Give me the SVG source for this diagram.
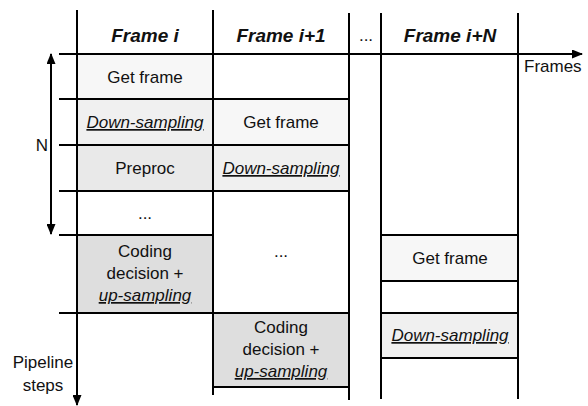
<svg xmlns="http://www.w3.org/2000/svg" width="588" height="406" viewBox="0 0 588 406">
<defs>
<marker id="ah" markerUnits="userSpaceOnUse" markerWidth="11" markerHeight="9" refX="10" refY="4.5" orient="auto-start-reverse">
<path d="M0,0 L11,4.5 L0,9 Z" fill="#000"/>
</marker>
</defs>
<style>
text{font-family:"Liberation Sans",Arial,sans-serif;font-size:17px;fill:#111;text-anchor:middle}
.h{font-weight:bold;font-style:italic;font-size:19px}
.u{font-style:italic;text-decoration:underline}
.l{text-anchor:start}
.g1{fill:#f7f7f7}.g2{fill:#f0f0f0}.g3{fill:#e9e9e9}.g4{fill:#dedede}
.ln{stroke:#000;stroke-width:2;fill:none}
</style>
<rect width="588" height="406" fill="#fff"/>

<g id="c1-getframe"><rect class="g1" x="77" y="54" width="136" height="45"/><text x="145" y="83">Get frame</text></g>
<g id="c1-down"><rect class="g2" x="77" y="99" width="136" height="46"/><text class="u" x="145" y="128">Down-sampling</text></g>
<g id="c1-preproc"><rect class="g3" x="77" y="145" width="136" height="46"/><text x="145" y="174">Preproc</text></g>
<g id="c1-dots"><text x="145" y="219">...</text></g>
<g id="c1-coding"><rect class="g4" x="77" y="235" width="136" height="78"/><text x="145" y="257">Coding</text><text x="145" y="279">decision +</text><text class="u" x="145" y="301">up-sampling</text></g>

<g id="c2-getframe"><rect class="g1" x="213" y="99" width="136" height="46"/><text x="281" y="128">Get frame</text></g>
<g id="c2-down"><rect class="g2" x="213" y="145" width="136" height="46"/><text class="u" x="281" y="174">Down-sampling</text></g>
<g id="c2-dots"><text x="281" y="257">...</text></g>
<g id="c2-coding"><rect class="g4" x="213" y="313" width="136" height="74"/><text x="281" y="333">Coding</text><text x="281" y="355">decision +</text><text class="u" x="281" y="377">up-sampling</text></g>

<g id="c3-getframe"><rect class="g1" x="381" y="235" width="137" height="46"/><text x="450" y="264">Get frame</text></g>
<g id="c3-down"><rect class="g2" x="381" y="313" width="137" height="45"/><text class="u" x="450" y="341">Down-sampling</text></g>

<g id="headers">
<text class="h" x="145" y="42">Frame i</text>
<text class="h" x="281" y="42">Frame i+1</text>
<text x="366" y="41">...</text>
<text class="h" x="450" y="42">Frame i+N</text>
</g>

<g id="grid" class="ln">
<line x1="59" y1="99" x2="349" y2="99"/>
<line x1="59" y1="145" x2="349" y2="145"/>
<line x1="59" y1="191" x2="349" y2="191"/>
<line x1="59" y1="235" x2="213" y2="235"/>
<line x1="381" y1="235" x2="518" y2="235"/>
<line x1="381" y1="281" x2="518" y2="281"/>
<line x1="59" y1="313" x2="349" y2="313"/>
<line x1="381" y1="313" x2="518" y2="313"/>
<line x1="381" y1="358" x2="518" y2="358"/>
<line x1="213" y1="387" x2="349" y2="387"/>
<line x1="213" y1="10" x2="213" y2="395"/>
<line x1="349" y1="13" x2="349" y2="400"/>
<line x1="381" y1="13" x2="381" y2="399"/>
<line x1="518" y1="13" x2="518" y2="399"/>
</g>

<g id="connectors" class="ln">
<line x1="59" y1="54" x2="582" y2="54" marker-end="url(#ah)"/>
<line x1="77" y1="10" x2="77" y2="405" marker-end="url(#ah)"/>
<line x1="51" y1="54" x2="51" y2="234" marker-start="url(#ah)" marker-end="url(#ah)"/>
</g>

<g id="labels">
<text class="l" x="524" y="72">Frames</text>
<text x="42" y="151">N</text>
<text x="43" y="368">Pipeline</text>
<text x="43" y="391">steps</text>
</g>
</svg>
